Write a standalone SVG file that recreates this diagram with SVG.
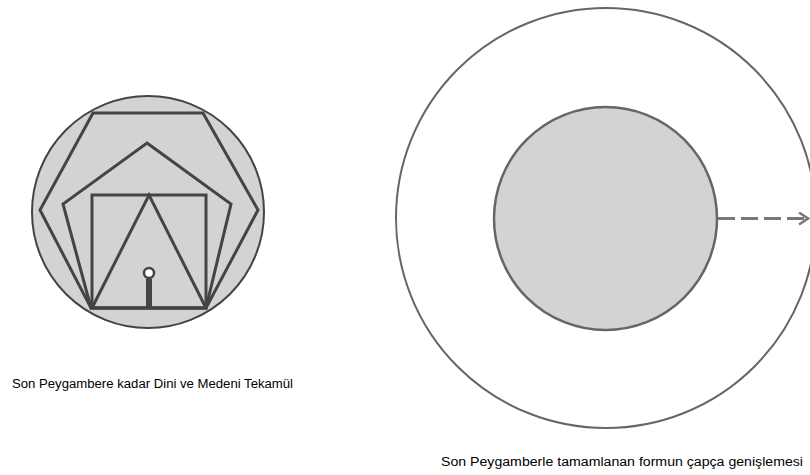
<svg xmlns="http://www.w3.org/2000/svg" width="810" height="475" viewBox="0 0 810 475">
<style>
.lbl{font-family:"Liberation Sans",Arial,sans-serif;font-size:12.5px;fill:#000}
.fig{fill:none;stroke:#444;stroke-width:3;stroke-linejoin:miter}
</style>
<defs>
<marker id="arr" markerWidth="12" markerHeight="14" refX="10" refY="7" orient="auto" markerUnits="userSpaceOnUse">
<path d="M1,1 L10,7 L1,13" fill="none" stroke="#777" stroke-width="2.5"/>
</marker>
</defs>
<rect width="810" height="475" fill="#fff"/>
<g id="left-figure">
<circle cx="148" cy="212" r="116" fill="#d3d3d3" stroke="#444" stroke-width="2"/>
<polygon class="fig" points="93,113 203,113 258,210 206,308 91,308 40,210"/>
<polygon class="fig" points="147,143 231,204 206,308 91,308 63,204"/>
<rect class="fig" x="92" y="195" width="114" height="113"/>
<polyline class="fig" points="92,308 149,195 206,308"/>
<line x1="149" y1="279" x2="149" y2="308" stroke="#444" stroke-width="6"/>
<circle cx="149" cy="273" r="5" fill="#fff" stroke="#444" stroke-width="2.5"/>
</g>
<g id="outer-circle">
<circle cx="606" cy="218" r="210" fill="none" stroke="#666" stroke-width="2"/>
</g>
<g id="inner-circle">
<circle cx="605.5" cy="218.5" r="111.5" fill="#d3d3d3" stroke="#666" stroke-width="2.5"/>
</g>
<g id="connectors">
<line x1="718" y1="218.5" x2="808" y2="218.5" stroke="#777" stroke-width="3" stroke-dasharray="17,6" marker-end="url(#arr)"/>
</g>
<g id="labels">
<text class="lbl" x="12" y="388" textLength="281" lengthAdjust="spacingAndGlyphs">Son Peygambere kadar Dini ve Medeni Tekamül</text>
<text class="lbl" x="441" y="466" textLength="362" lengthAdjust="spacingAndGlyphs">Son Peygamberle tamamlanan formun çapça genişlemesi</text>
</g>
</svg>
